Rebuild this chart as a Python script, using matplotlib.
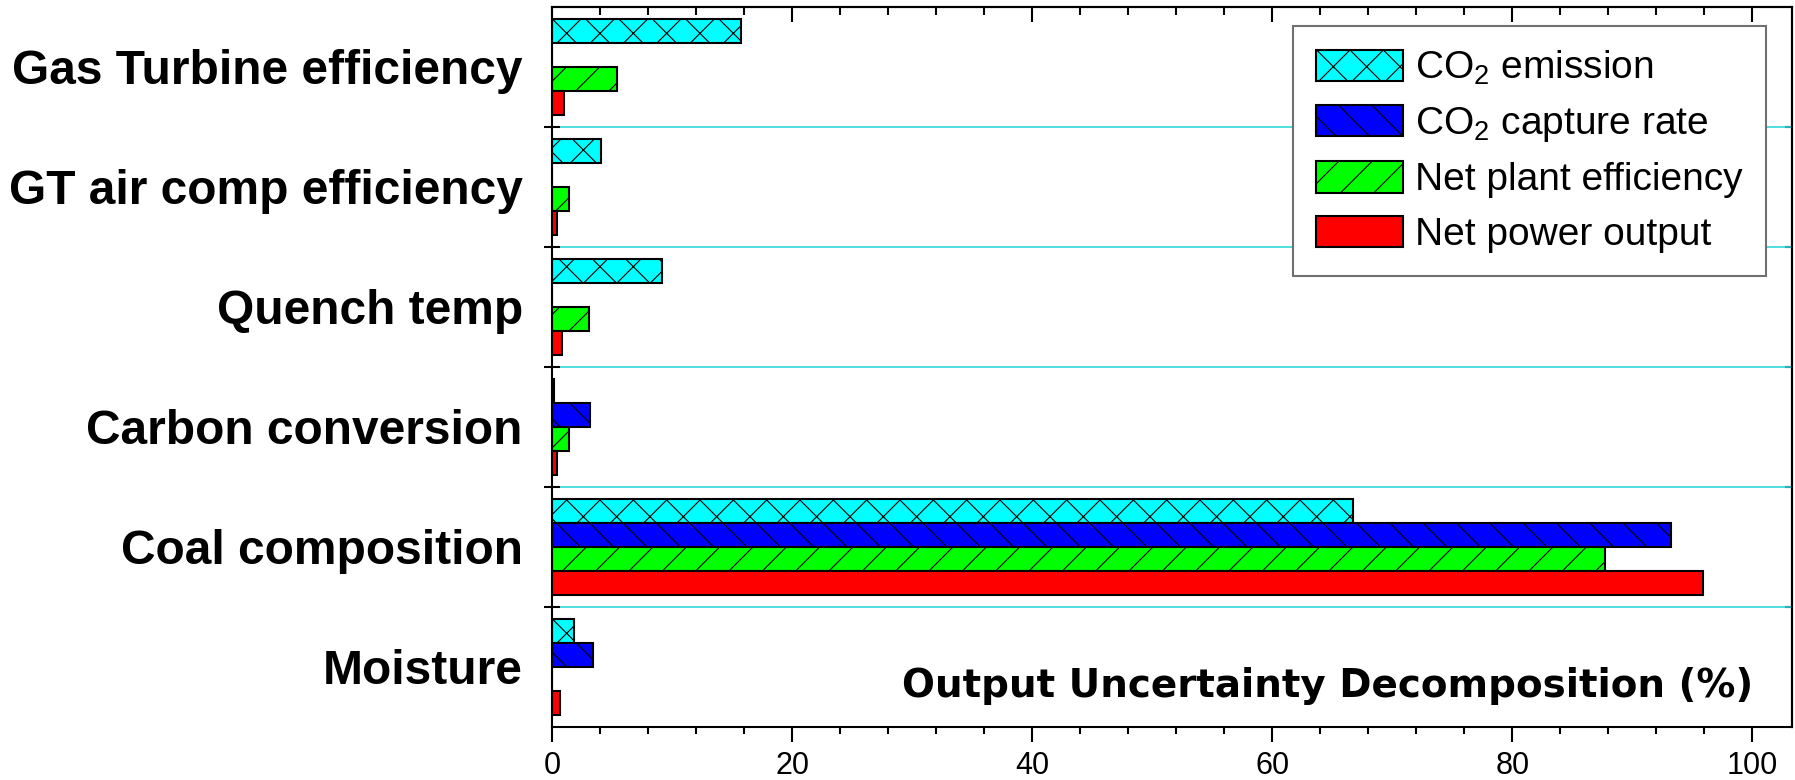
import matplotlib
matplotlib.use('Agg')
import matplotlib.pyplot as plt
from matplotlib.ticker import MultipleLocator
import numpy as np

plt.rcParams['font.family'] = ['Liberation Sans', 'DejaVu Sans']
plt.rcParams['mathtext.fontset'] = 'custom'
plt.rcParams['mathtext.rm'] = 'Liberation Sans'
plt.rcParams['hatch.linewidth'] = 0.8

# 입력 변수 (위에서 아래 순)
factors = ['Gas Turbine efficiency', 'GT air comp efficiency', 'Quench temp',
           'Carbon conversion', 'Coal composition', 'Moisture']

# 출력별 불확실성 기여도 (%)
co2_emission = [15.75, 4.05, 9.2, 0.2, 66.7, 1.85]
co2_capture = [0.0, 0.0, 0.0, 3.2, 93.2, 3.4]
net_efficiency = [5.4, 1.4, 3.1, 1.45, 87.7, 0.0]
net_power = [1.0, 0.4, 0.85, 0.4, 95.9, 0.7]

series_labels = ['CO$_2$ emission', 'CO$_2$ capture rate',
                 'Net plant efficiency', 'Net power output']

fig = plt.figure(figsize=(17.95, 7.8), dpi=100)
ax = fig.add_axes([0.3075, 0.068, 0.6908, 0.9231])

y = np.arange(len(factors))
bar_h = 0.2
series = [
    (co2_emission, '#00FFFF', 'x', -0.3),
    (co2_capture, '#0000FF', '\\', -0.1),
    (net_efficiency, '#00FF00', '/', 0.1),
    (net_power, '#FF0000', '', 0.3),
]
for (vals, col, hatch, off), lab in zip(series, series_labels):
    ax.barh(y + off, vals, height=bar_h, color=col, edgecolor='black',
            linewidth=1.5, hatch=hatch, label=lab, zorder=2)

# 구간 경계선
bounds = np.arange(0.5, len(factors) - 0.5, 1.0)
for b in bounds:
    ax.axhline(b, color='#30D8D8', linewidth=1.2, zorder=1)

ax.set_xlim(0, 103.3)
ax.set_ylim(len(factors) - 0.5, -0.5)

for sp in ax.spines.values():
    sp.set_linewidth(1.5)

ax.set_xticks(range(0, 101, 20))
ax.xaxis.set_minor_locator(MultipleLocator(4))
ax.tick_params(axis='x', which='major', direction='out', length=11, width=1.5,
               labelsize=22, pad=6)
ax.tick_params(axis='x', which='minor', direction='out', length=5, width=1.5)

ax.set_yticks(y)
ax.set_yticklabels(factors, fontsize=34.5, fontweight='bold')
ax.set_yticks(bounds, minor=True)
ax.tick_params(axis='y', which='major', length=0, pad=21)
ax.tick_params(axis='y', which='minor', direction='inout', length=11, width=1.5)

top = ax.secondary_xaxis('top')
top.set_xticks(range(0, 101, 20))
top.xaxis.set_minor_locator(MultipleLocator(4))
top.tick_params(which='major', direction='in', length=11, width=1.5, labeltop=False)
top.tick_params(which='minor', direction='in', length=5.5, width=1.5)
top.spines['top'].set_linewidth(1.5)

right = ax.secondary_yaxis('right')
right.set_yticks(bounds)
right.tick_params(direction='in', length=5, width=1.5, labelright=False)
right.spines['right'].set_linewidth(1.5)

leg = ax.legend(loc='upper left', bbox_to_anchor=(0.5976, 0.974), fontsize=28,
                handlelength=2.23, handleheight=0.86, handletextpad=0.3,
                labelspacing=0.45, borderpad=0.6, borderaxespad=0,
                fancybox=False, framealpha=1)
leg.get_frame().set_edgecolor('#707070')
leg.get_frame().set_linewidth(1.5)

ax.text(0.9685, 0.0417, 'Output Uncertainty Decomposition (%)',
        transform=ax.transAxes, ha='right', va='baseline', fontsize=28,
        fontweight='bold', family='DejaVu Sans')

fig.savefig('out.png', dpi=100)
